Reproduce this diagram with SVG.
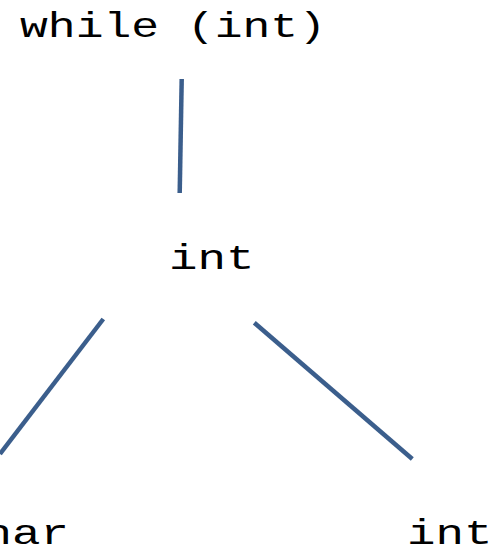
<svg xmlns="http://www.w3.org/2000/svg" width="495" height="556" viewBox="0 0 495 556">
  <style>
    .lbl { font-family: "Liberation Mono", "Courier New", monospace; font-size: 35px; fill: #000; }
    .edge { stroke: #3B5E8C; stroke-width: 4.5; fill: none; stroke-linecap: butt; }
  </style>
  <rect width="495" height="556" fill="#fff"/>
  <g id="connectors">
    <line class="edge" x1="181.7" y1="79" x2="179.7" y2="193"/>
    <line class="edge" x1="103.3" y1="319" x2="0" y2="454"/>
    <line class="edge" x1="254.3" y1="322.7" x2="412.3" y2="459"/>
  </g>
  <g id="node-while">
    <text class="lbl" x="20" y="37" textLength="306" lengthAdjust="spacingAndGlyphs">while (int)</text>
  </g>
  <g id="node-int-mid">
    <text class="lbl" x="169" y="269" textLength="85.5" lengthAdjust="spacingAndGlyphs">int</text>
  </g>
  <g id="node-char">
    <text class="lbl" x="-45" y="544" textLength="114" lengthAdjust="spacingAndGlyphs">char</text>
  </g>
  <g id="node-int-right">
    <text class="lbl" x="407" y="544" textLength="85.5" lengthAdjust="spacingAndGlyphs">int</text>
  </g>
</svg>
